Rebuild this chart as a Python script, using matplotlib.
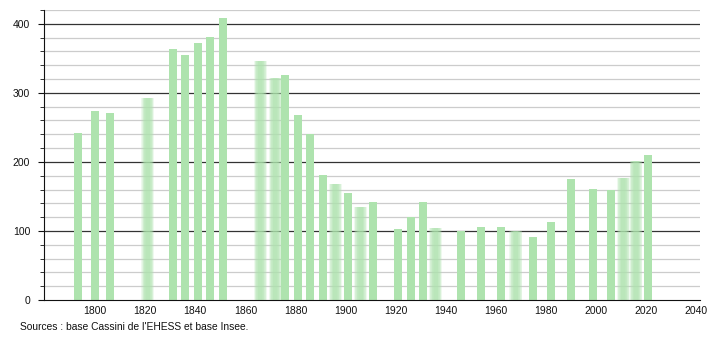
import numpy as np
import matplotlib.pyplot as plt
from matplotlib.ticker import MultipleLocator

# census years and population
years = [1793, 1800, 1806, 1821, 1831, 1836, 1841, 1846, 1851,
         1866, 1872, 1876, 1881, 1886, 1891, 1896, 1901, 1906, 1911,
         1921, 1926, 1931, 1936, 1946, 1954, 1962, 1968, 1975, 1982,
         1990, 1999, 2006, 2011, 2016, 2021]
population = [242, 274, 271, 293, 364, 355, 372, 381, 409,
              346, 322, 326, 268, 241, 181, 168, 155, 135, 142,
              103, 120, 142, 104, 100, 106, 106, 100, 91, 113,
              175, 161, 159, 177, 201, 210]
# bars drawn with a soft, blurred edge in the original
fuzzy_years = [1821, 1866, 1872, 1896, 1906, 1936, 1968, 2011, 2016]

source_text = "Sources : base Cassini de l'EHESS et base Insee."

bar_color = "#aee3ae"
bar_width = 3.2

plt.rcParams['font.family'] = ['Liberation Sans', 'DejaVu Sans']

fig = plt.figure(figsize=(7.1, 3.4), dpi=100)
ax = fig.add_axes([0.062, 0.1176, 0.924, 0.853])

# grid lines
for v in range(20, 421, 20):
    if v % 100 == 0:
        ax.axhline(v, color="#333333", lw=0.9, zorder=1)
    else:
        ax.axhline(v, color="#cccccc", lw=0.9, zorder=1)

# bars
for yr, pop in zip(years, population):
    if yr in fuzzy_years:
        for f in np.linspace(1.6, 0.5, 8):
            ax.bar(yr, pop, width=bar_width * f, color=bar_color,
                   alpha=0.2, lw=0, zorder=2)
    else:
        ax.bar(yr, pop, width=bar_width, color=bar_color, lw=0, zorder=2)

ax.set_xlim(1779.6, 2041.6)
ax.set_ylim(0, 420)
ax.set_xticks(range(1800, 2041, 20))
ax.yaxis.set_major_locator(MultipleLocator(100))
ax.yaxis.set_minor_locator(MultipleLocator(20))
ax.tick_params(axis="x", length=0, labelsize=7.5, colors="#111111", pad=4)
ax.tick_params(axis="y", which="major", length=4, labelsize=7.5,
               colors="#111111", pad=6)
ax.tick_params(axis="y", which="minor", length=3, color="#111111")

for s in ["top", "right"]:
    ax.spines[s].set_visible(False)
ax.spines["left"].set_color("#111111")
ax.spines["bottom"].set_color("#111111")

fig.text(20 / 710, 1 - 327 / 340, source_text, fontsize=7.4,
         color="#111111", va="center", ha="left")

fig.savefig("out.png", dpi=100)
